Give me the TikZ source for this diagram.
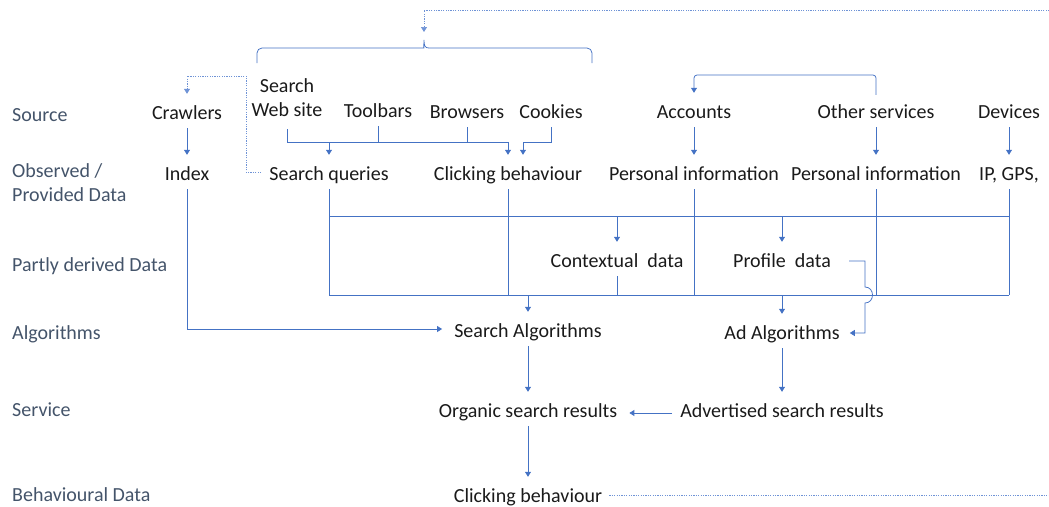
\documentclass[tikz,border=0pt]{standalone}
\usepackage{fontspec}
\setmainfont{Carlito}
\usetikzlibrary{arrows.meta}
\definecolor{lblue}{HTML}{4472C4}
\definecolor{dblue}{HTML}{6F93D6}
\definecolor{labc}{HTML}{44546A}
\definecolor{txtc}{HTML}{1A1A1A}
\begin{document}
\begin{tikzpicture}[x=1pt,y=-1pt,
  txt/.style={font=\fontsize{20}{24}\selectfont, text=txtc, inner sep=0pt, text height=13pt, text depth=5pt, anchor=base},
  mtxt/.style={font=\fontsize{20}{24}\selectfont, text=txtc, inner sep=0pt, align=center},
  lab/.style={font=\fontsize{20}{24}\selectfont, text=labc, inner sep=0pt},
  ln/.style={draw=lblue, line width=0.75pt},
  atip/.style={-{Triangle[width=6pt,length=5pt]}},
  arr/.style={ln, atip, shorten >=12pt},
  fromnode/.style={shorten <=4pt},
  dotln/.style={draw=dblue, line width=0.7pt, dash pattern=on 1.2pt off 1.2pt},
]
\useasboundingbox (0,0) rectangle (1049,506);
\clip (0,0) rectangle (1049,506);

% row labels
\node[lab, anchor=base west] (l1) at (12,121) {Source};
\node[lab, anchor=south west, align=left] (l2) at (12,202) {Observed /\\Provided Data};
\node[lab, anchor=base west] (l3) at (12,271) {Partly derived Data};
\node[lab, anchor=base west] (l4) at (12,339) {Algorithms};
\node[lab, anchor=base west] (l5) at (12,416) {Service};
\node[lab, anchor=base west] (l6) at (12,501) {Behavioural Data};

% source row
\node[txt] (crawl) at (187,119) {Crawlers};
\node[mtxt, anchor=south] (web) at (287,117) {Search\\Web site};
\node[txt] (tool) at (378,117) {Toolbars};
\node[txt] (brow) at (467,118) {Browsers};
\node[txt] (cook) at (551,118) {Cookies};
\node[txt] (acc) at (694,118) {Accounts};
\node[txt] (oth) at (876,118) {Other services};
\node[txt] (dev) at (1009,118) {Devices};
% observed row
\node[txt] (index) at (187,180) {Index};
\node[txt] (sq) at (329,180) {Search queries};
\node[txt] (click) at (508,180) {Clicking behaviour};
\node[txt] (pi1) at (694,180) {Personal information};
\node[txt] (pi2) at (876,180) {Personal information};
\node[txt] (ip) at (1009,180) {IP, GPS,};
% derived
\node[txt] (ctx) at (617,267) {Contextual\ \ data};
\node[txt] (prof) at (782,267) {Profile\ \ data};
% algorithms
\node[txt] (salg) at (528,337) {Search Algorithms};
\node[txt] (aalg) at (782,339) {Ad Algorithms};
% service
\node[txt] (org) at (528,417) {Organic search results};
\node[txt] (adv) at (782,417) {Advertised search results};
% behavioural
\node[txt] (clk2) at (528,502) {Clicking behaviour};

% helper coordinates
\coordinate (bus) at (0,142);
\coordinate (ck) at (523,142);
\coordinate (topbus) at (0,75);
\coordinate (dk) at (246,76);
\coordinate (btop) at (0,216);
\coordinate (bbot) at (0,295);
\coordinate (hopa) at (865,287);
\coordinate (hopb) at (865,303);
\coordinate (far) at (1062,10);
\coordinate (bracetip) at (424,40);

% brace over sources
\draw[ln, rounded corners=5pt] (257,63) |- (419,48) [sharp corners]
  .. controls (423,48) and (424,46) .. (bracetip)
  .. controls (424,46) and (425,48) .. (429,48) [rounded corners=5pt] -| (592,63);

% crawlers
\draw[arr, fromnode] (crawl) -- (index);
\draw[dotln, atip, shorten >=12pt] ([xshift=-8pt,yshift=4pt]sq.west) -| (dk) -| (crawl.north);
\draw[arr, fromnode] (index) |- ([yshift=4pt]salg.west);

% sources to observed data
\draw[ln, shorten <=12pt] (web.south) -- (web.south |- bus) -- (click.north |- bus);
\draw[ln, fromnode] (tool) -- (tool |- bus);
\draw[ln, fromnode] (brow) -- (brow |- bus);
\draw[arr] (sq.north |- bus) -- (sq.north);
\draw[arr] (click.north |- bus) -- (click.north);
\draw[arr, fromnode] (cook) |- (ck) -- (ck |- click.north);

% accounts / other services / devices
\draw[arr, shorten <=10pt, rounded corners=3pt] (oth.north) -- (oth.north |- topbus) -| (acc.north);
\draw[arr, fromnode] (acc) -- (pi1);
\draw[arr, fromnode] (oth) -- (pi2);
\draw[arr, fromnode] (dev) -- (ip);

% data box
\foreach \n in {sq,click,pi1,pi2,ip} \draw[ln, fromnode] (\n) -- (\n |- bbot);
\draw[ln] (sq |- btop) -- (ip |- btop);
\draw[ln] (sq |- bbot) -- (ip |- bbot);
\draw[arr] (ctx |- btop) -- (ctx.north);
\draw[ln, fromnode] (ctx) -- (ctx |- bbot);
\draw[arr] (prof |- btop) -- (prof.north);
\draw[arr] (salg |- bbot) -- (salg.north);
\draw[arr] (aalg |- bbot) -- (aalg.north);

% profile data to ad algorithms (with hop)
\draw[arr, shorten <=18pt, shorten >=10pt] ([yshift=2pt]prof.east) -| (hopa)
  .. controls +(10,0) and +(10,0) .. (hopb) |- ([yshift=2pt]aalg.east);

% services
\draw[arr, fromnode] (salg) -- (org);
\draw[arr, fromnode] (aalg) -- (adv);
\draw[arr, shorten <=8pt] (adv) -- (org);
\draw[arr, fromnode] (org) -- (clk2);

% feedback loop
\draw[dotln, atip, shorten >=8pt] ([xshift=7pt,yshift=3pt]clk2.east) -| (far) -| (bracetip);
\end{tikzpicture}
\end{document}
